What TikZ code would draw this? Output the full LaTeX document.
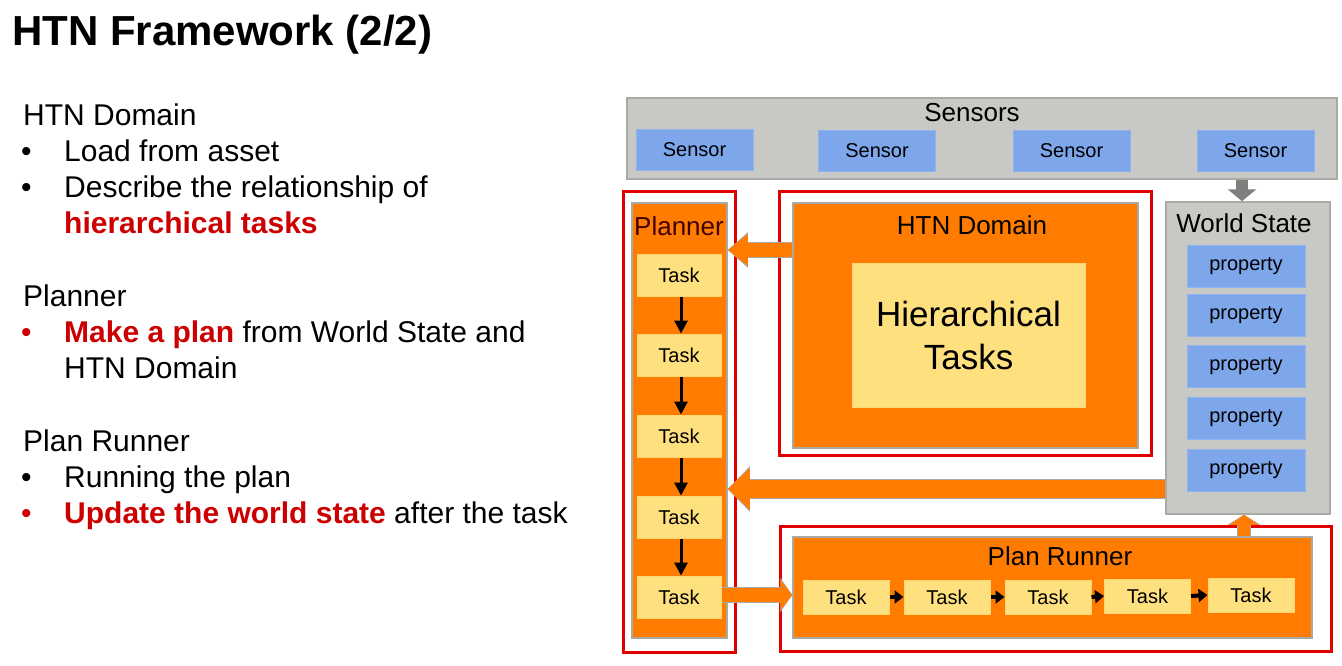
\documentclass[tikz,border=0pt]{standalone}
\usepackage{fontspec}
\setmainfont{Liberation Sans}
\usetikzlibrary{arrows.meta,positioning}

\definecolor{boxorange}{HTML}{FF7C00}
\definecolor{boxyellow}{HTML}{FFE07E}
\definecolor{boxblue}{HTML}{7DA6EB}
\definecolor{boxgray}{HTML}{C8C8C4}
\definecolor{edgegray}{HTML}{A9A9A6}
\definecolor{framered}{HTML}{E00000}
\definecolor{textred}{HTML}{CC0000}
\definecolor{darkgrayarrow}{HTML}{7F7F7D}

\newcommand{\titlefont}{\fontsize{42}{50}\selectfont\bfseries}
\newcommand{\htnbody}{\fontsize{30}{36}\selectfont}
\newcommand{\htnlabel}{\fontsize{26}{30}\selectfont}
\newcommand{\htnsmall}{\fontsize{20}{24}\selectfont}
\newcommand{\htnbig}{\fontsize{35}{43}\selectfont}

\tikzset{
  textline/.style={anchor=base west, font=\htnbody},
  panel/.style={draw=edgegray, fill=boxgray, line width=1.5pt},
  bluebox/.style={draw=boxblue!85!white, fill=boxblue, line width=1pt, font=\htnsmall},
  redframe/.style={draw=framered, line width=3pt},
  orangebox/.style={draw=edgegray, fill=boxorange, line width=1.5pt},
  taskbox/.style={draw=boxyellow!90!orange, fill=boxyellow, line width=1pt, font=\htnsmall},
  fatarrow/.style n args={6}{preaction={draw=#1, line width=#4, -{Triangle[width=#5,length=#6]}}, draw=boxorange, line width=#2, -{Triangle[width=#3,length=#6]}},
  chainarrow/.style={draw=black, line width=3pt, -{Triangle[width=13pt,length=13pt]}},
  shortarrow/.style={draw=black, line width=4pt, -{Triangle[width=13pt,length=9pt]}}
}

\begin{document}
\begin{tikzpicture}[x=1pt, y=-1pt, every node/.style={inner sep=0pt}]
    \useasboundingbox[fill=white] (0,0) rectangle (1342,665);

    % Title
    \node[anchor=base west, font=\titlefont] (title) at (12,45) {HTN Framework (2/2)};

    % Left column text
    \node[textline] (domhead) at (23,125) {HTN Domain};
    \node[textline] (domdotA) at (21,161) {•};
    \node[textline] (domlineA) at (64,161) {Load from asset};
    \node[textline] (domdotB) at (21,197) {•};
    \node[textline] (domlineB) at (64,197) {Describe the relationship of};
    \node[textline, text=textred, font=\htnbody\bfseries] (domlineC) at (64,233) {hierarchical tasks};

    \node[textline] (planhead) at (23,306) {Planner};
    \node[textline, text=textred] (plandot) at (21,342) {•};
    \node[textline] (planlineA) at (64,342) {\textcolor{textred}{\bfseries Make a plan} from World State and};
    \node[textline] (planlineB) at (64,378) {HTN Domain};

    \node[textline] (runhead) at (23,451) {Plan Runner};
    \node[textline] (rundotA) at (21,487) {•};
    \node[textline] (runlineA) at (64,487) {Running the plan};
    \node[textline, text=textred] (rundotB) at (21,523) {•};
    \node[textline] (runlineB) at (64,523) {\textcolor{textred}{\bfseries Update the world state} after the task};

    % Sensors
    \node[panel, minimum width=710pt, minimum height=81pt] (sensors) at (982,138.5) {};
    \node[font=\htnlabel] (sensorslabel) at (972,113) {Sensors};
    \node[bluebox, minimum width=117pt, minimum height=41pt] (sensorA) at (694.5,149.5) {Sensor};
    \node[bluebox, minimum width=117pt, minimum height=41pt] (sensorB) at (877,150.5) {Sensor};
    \node[bluebox, minimum width=117pt, minimum height=41pt] (sensorC) at (1071.5,150.5) {Sensor};
    \node[bluebox, minimum width=117pt, minimum height=41pt] (sensorD) at (1255.5,151) {Sensor};

    % World State
    \node[panel, minimum width=164pt, minimum height=312pt] (world) at (1248,358) {};
    \node[font=\htnlabel] (worldlabel) at (1244,223) {World State};
    \node[bluebox, minimum width=118pt, minimum height=42pt] (propA) at (1246,266) {property};
    \node[bluebox, minimum width=118pt, minimum height=42pt] (propB) at (1246,315) {property};
    \node[bluebox, minimum width=118pt, minimum height=42pt] (propC) at (1246,366) {property};
    \node[bluebox, minimum width=118pt, minimum height=42pt] (propD) at (1246,418) {property};
    \node[bluebox, minimum width=118pt, minimum height=42pt] (propE) at (1246,470) {property};

    % Planner
    \node[redframe, minimum width=112pt, minimum height=461pt] (plannerframe) at (679,421.5) {};
    \node[orangebox, minimum width=95pt, minimum height=435pt] (planner) at (679.5,420.5) {};
    \node[font=\htnlabel, text=black!75!red] (plannerlabel) at (679,226) {Planner};
    \node[taskbox, minimum width=84pt, minimum height=42pt] (ptaskA) at (679,275) {Task};
    \node[taskbox, minimum width=84pt, minimum height=42pt] (ptaskB) at (679,355) {Task};
    \node[taskbox, minimum width=84pt, minimum height=42pt] (ptaskC) at (679,436) {Task};
    \node[taskbox, minimum width=84pt, minimum height=42pt] (ptaskD) at (679,517) {Task};
    \node[taskbox, minimum width=84pt, minimum height=42pt] (ptaskE) at (679,597) {Task};
    \draw[chainarrow] ([xshift=2pt]ptaskA.south) -- ([xshift=2pt]ptaskB.north);
    \draw[chainarrow] ([xshift=2pt]ptaskB.south) -- ([xshift=2pt]ptaskC.north);
    \draw[chainarrow] ([xshift=2pt]ptaskC.south) -- ([xshift=2pt]ptaskD.north);
    \draw[chainarrow] ([xshift=2pt]ptaskD.south) -- ([xshift=2pt]ptaskE.north);

    % HTN Domain
    \node[redframe, minimum width=372pt, minimum height=264pt] (domainframe) at (965,323) {};
    \node[orangebox, minimum width=345pt, minimum height=245pt] (domain) at (965.5,325.5) {};
    \node[font=\htnlabel] (domainlabel) at (972,225) {HTN Domain};
    \node[taskbox, font=\htnbig, align=center, minimum width=233pt, minimum height=144pt] (hier) at (968.5,335) {Hierarchical\\Tasks};

    % Plan Runner
    \node[redframe, minimum width=551pt, minimum height=125pt] (runnerframe) at (1055.5,588.5) {};
    \node[orangebox, minimum width=519pt, minimum height=101pt] (runner) at (1052.5,587.5) {};
    \node[font=\htnlabel] (runnerlabel) at (1060,556) {Plan Runner};
    \node[taskbox, minimum width=86pt, minimum height=34pt] (rtaskA) at (846,597) {Task};
    \node[taskbox, minimum width=86pt, minimum height=34pt] (rtaskB) at (947,597) {Task};
    \node[taskbox, minimum width=86pt, minimum height=34pt] (rtaskC) at (1048,597) {Task};
    \node[taskbox, minimum width=86pt, minimum height=34pt] (rtaskD) at (1147.5,596) {Task};
    \node[taskbox, minimum width=86pt, minimum height=34pt] (rtaskE) at (1251,595) {Task};
    \draw[shortarrow] (rtaskA.east) -- (rtaskB.west);
    \draw[shortarrow] (rtaskB.east) -- (rtaskC.west);
    \draw[shortarrow] (rtaskC.east) -- (rtaskD.west);
    \draw[shortarrow] (rtaskD.east) -- (rtaskE.west);

    % Block arrows
    \draw[draw=darkgrayarrow, line width=12pt, -{Triangle[width=28pt,length=12pt]}] (sensors.south -| 1242,0) -- (world.north -| 1242,0);
    \draw[fatarrow={edgegray}{14pt}{30pt}{16pt}{34pt}{20pt}] (domain.west |- 0,250) -- (planner.east |- 0,250);
    \draw[fatarrow={edgegray}{18pt}{40pt}{20pt}{44pt}{22pt}] (world.west |- 0,489) -- (planner.east |- 0,489);
    \draw[fatarrow={edgegray}{14pt}{30pt}{16pt}{34pt}{12pt}] (ptaskE.east |- 0,595) -- (runner.west |- 0,595);
    \draw[fatarrow={edgegray}{12pt}{28pt}{14pt}{32pt}{10pt}] (runner.north -| 1244,0) -- (world.south -| 1244,0);
\end{tikzpicture}
\end{document}
